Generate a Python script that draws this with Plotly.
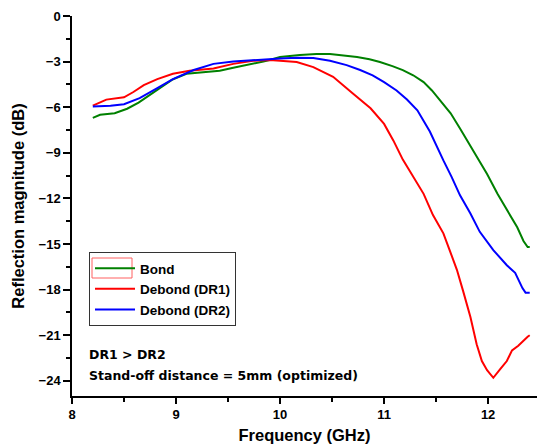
import plotly.graph_objects as go

# Frequency (GHz) and reflection magnitude (dB)
bond_f = [8.2, 8.27, 8.41, 8.53, 8.64, 8.75, 8.85, 8.96, 9.1, 9.23, 9.42, 9.55, 9.71, 9.84,
          9.9, 10.0, 10.19, 10.35, 10.48, 10.6, 10.74, 10.86, 10.96, 11.08, 11.18, 11.28, 11.38,
          11.46, 11.54, 11.64, 11.73, 11.8, 11.89, 11.99, 12.09, 12.19, 12.28, 12.34, 12.38, 12.4]
bond_db = [-6.7, -6.5, -6.4, -6.1, -5.7, -5.2, -4.7, -4.2, -3.8, -3.7, -3.6, -3.4, -3.2, -3.0,
           -2.9, -2.7, -2.57, -2.5, -2.5, -2.58, -2.7, -2.85, -3.03, -3.3, -3.56, -3.9, -4.35,
           -4.9, -5.54, -6.4, -7.4, -8.2, -9.3, -10.4, -11.7, -12.9, -13.9, -14.8, -15.2, -15.2]

dr1_f = [8.2, 8.33, 8.5, 8.59, 8.69, 8.82, 8.97, 9.13, 9.36, 9.55, 9.74, 9.9, 10.0, 10.16,
         10.32, 10.51, 10.7, 10.87, 11.0, 11.09, 11.18, 11.28, 11.38, 11.47, 11.57, 11.63, 11.7,
         11.76, 11.83, 11.89, 11.94, 11.99, 12.05, 12.12, 12.18, 12.23, 12.29, 12.38, 12.4]
dr1_db = [-5.9, -5.5, -5.35, -5.0, -4.55, -4.15, -3.8, -3.6, -3.45, -3.15, -2.95, -2.9, -2.95, -3.03,
          -3.36, -4.0, -5.1, -6.07, -7.1, -8.2, -9.45, -10.6, -11.7, -13.1, -14.3, -15.4, -16.7,
          -18.1, -19.8, -21.6, -22.7, -23.3, -23.8, -23.2, -22.7, -22.0, -21.7, -21.1, -21.0]

dr2_f = [8.2, 8.37, 8.5, 8.65, 8.82, 8.97, 9.17, 9.36, 9.55, 9.74, 9.9, 10.0, 10.16, 10.32,
         10.48, 10.64, 10.77, 10.89, 11.0, 11.12, 11.22, 11.32, 11.44, 11.5, 11.57, 11.65, 11.73,
         11.83, 11.92, 12.05, 12.18, 12.26, 12.33, 12.36, 12.4]
dr2_db = [-5.95, -5.9, -5.8, -5.4, -4.75, -4.15, -3.55, -3.15, -3.0, -2.9, -2.85, -2.8, -2.75, -2.77,
          -2.95, -3.23, -3.55, -3.9, -4.35, -4.9, -5.5, -6.2, -7.6, -8.5, -9.5, -10.6, -11.8,
          -13.0, -14.2, -15.4, -16.4, -16.9, -17.9, -18.2, -18.2]

x_range = [8, 12.47]
y_range = [-25, 0]

W, H = 537, 446
ml, mr, mt, mb = 72, 0, 16, 50
pw, ph = W - ml - mr, H - mt - mb

def px(xp):
    return (xp - ml) / pw

def py(yp):
    return (H - mb - yp) / ph

font = "Liberation Sans, Arial, sans-serif"
note_font = "DejaVu Sans, Verdana, sans-serif"

fig = go.Figure()
fig.add_trace(go.Scatter(x=bond_f, y=bond_db, mode="lines", name="Bond",
                         line=dict(color="#008000", width=2)))
fig.add_trace(go.Scatter(x=dr1_f, y=dr1_db, mode="lines", name="Debond (DR1)",
                         line=dict(color="#ff0000", width=2)))
fig.add_trace(go.Scatter(x=dr2_f, y=dr2_db, mode="lines", name="Debond (DR2)",
                         line=dict(color="#0000ff", width=2)))

fig.update_layout(
    width=W, height=H,
    margin=dict(l=ml, r=mr, t=mt, b=mb, autoexpand=False),
    paper_bgcolor="white", plot_bgcolor="white",
    font=dict(family=font, color="black"),
    xaxis=dict(range=x_range, dtick=1, showgrid=False, zeroline=False,
               showline=True, linecolor="black", linewidth=1.5,
               ticks="outside", ticklen=6, tickwidth=1.5, tickcolor="black",
               minor=dict(dtick=0.5, ticks="outside", ticklen=4, tickwidth=1.5, tickcolor="black"),
               tickfont=dict(size=13, weight="bold"), automargin=False,
               title=dict(text="Frequency (GHz)", font=dict(size=16.5, weight="bold"), standoff=8)),
    yaxis=dict(range=y_range, dtick=3, showgrid=False, zeroline=False,
               showline=True, linecolor="black", linewidth=1.5,
               ticks="outside", ticklen=7, tickwidth=1.5, tickcolor="black",
               minor=dict(dtick=1.5, ticks="outside", ticklen=4, tickwidth=1.5, tickcolor="black"),
               tickfont=dict(size=13, weight="bold"), automargin=False,
               title=dict(text="Reflection magnitude (dB)", font=dict(size=16.5, weight="bold"),
                          standoff=10)),
    xaxis2=dict(overlaying="x", side="top", range=[0, 9.96], dtick=1, showgrid=False,
                zeroline=False, showline=True, linecolor="black", linewidth=1.5,
                ticks="inside", ticklen=5, tickwidth=1.5, tickcolor="black",
                showticklabels=False),
    yaxis2=dict(overlaying="y", side="right", range=[0, 10], dtick=2, showgrid=False,
                zeroline=False, showline=False,
                ticks="inside", ticklen=5, tickwidth=1.5, tickcolor="black",
                minor=dict(dtick=1, ticks="inside", ticklen=2, tickwidth=1.5, tickcolor="black"),
                showticklabels=False),
    showlegend=True,
    legend=dict(x=px(89), y=py(252), xanchor="left", yanchor="top",
                bgcolor="rgba(0,0,0,0)", bordercolor="#333333", borderwidth=1,
                font=dict(size=13.5, weight="bold"), tracegroupgap=0, itemwidth=40),
)

# red selection frame around the Bond legend sample
fig.add_shape(type="rect", xref="paper", yref="paper",
              x0=px(92), x1=px(132), y0=py(278), y1=py(258),
              line=dict(color="#ff6060", width=1))

fig.add_annotation(text="DR1 > DR2", xref="paper", yref="paper",
                   x=px(87), y=py(354), xanchor="left", yanchor="middle",
                   showarrow=False, font=dict(family=note_font, size=12.5, weight="bold"))
fig.add_annotation(text="Stand-off distance = 5mm (optimized)", xref="paper", yref="paper",
                   x=px(87), y=py(375), xanchor="left", yanchor="middle",
                   showarrow=False, font=dict(family=note_font, size=12.5, weight="bold"))

fig.write_html("out.html", config={"displayModeBar": False},
               post_script="document.body.style.margin='0';document.body.style.overflow='hidden';")
